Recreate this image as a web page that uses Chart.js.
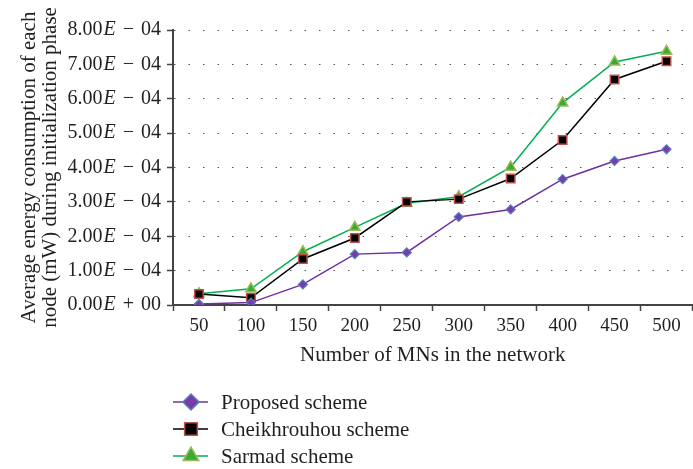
<!DOCTYPE html>
<html>
<head>
<meta charset="utf-8">
<script src="https://cdn.jsdelivr.net/npm/chart.js@4/dist/chart.umd.min.js"></script>
<style>
  html, body { margin: 0; padding: 0; background: #fff; overflow: hidden; }
  #wrap { width: 700px; height: 469px; }
</style>
</head>
<body>
<div id="wrap"><canvas id="chart" width="700" height="469"></canvas></div>
<script>
// ---- data ----
const mnCounts = ["50", "100", "150", "200", "250", "300", "350", "400", "450", "500"];
const proposedScheme = [0.03e-4, 0.07e-4, 0.60e-4, 1.48e-4, 1.53e-4, 2.56e-4, 2.78e-4, 3.66e-4, 4.19e-4, 4.53e-4];
const cheikhrouhouScheme = [0.32e-4, 0.21e-4, 1.34e-4, 1.95e-4, 3.00e-4, 3.08e-4, 3.68e-4, 4.80e-4, 6.56e-4, 7.09e-4];
const sarmadScheme = [0.33e-4, 0.47e-4, 1.55e-4, 2.26e-4, 2.96e-4, 3.15e-4, 4.01e-4, 5.88e-4, 7.07e-4, 7.38e-4];
const seriesNames = ["Proposed scheme", "Cheikhrouhou scheme", "Sarmad scheme"];
const yTickStep = 1e-4;
const yMax = 8e-4;

const FONT = '"Liberation Serif", "DejaVu Serif", serif';
const TEXT = "#231f20";
const AXIS = "#444";

// "8.00E − 04" -> parts
function sciParts(v) {
  const s = v.toExponential(2);
  const [m, e] = s.split("e");
  let n = parseInt(e, 10);
  if (v === 0) n = 0;
  const sign = n < 0 ? "\u2212" : "+";
  const exp = String(Math.abs(n)).padStart(2, "0");
  return { mant: v === 0 ? "0.00" : m, sign, exp };
}

// y tick labels with italic E
const yLabelPlugin = {
  id: "yLabels",
  afterDraw(chart) {
    const ctx = chart.ctx;
    const sc = chart.scales.y;
    const right = sc.right - 12;
    const reg = "20px " + FONT;
    const ita = "italic 20px " + FONT;
    ctx.save();
    ctx.fillStyle = TEXT;
    ctx.textBaseline = "middle";
    ctx.textAlign = "left";
    sc.ticks.forEach(t => {
      const y = sc.getPixelForValue(t.value);
      const p = sciParts(t.value);
      ctx.font = reg;
      const wExp = ctx.measureText(p.exp).width;
      const wSign = ctx.measureText(p.sign).width;
      const wMant = ctx.measureText(p.mant).width;
      ctx.font = ita;
      const wE = ctx.measureText("E").width;
      let x = right - wExp;
      ctx.font = reg;
      ctx.fillText(p.exp, x, y);
      x -= 7 + wSign;
      ctx.fillText(p.sign, x, y);
      x -= 7 + wE;
      ctx.font = ita;
      ctx.fillText("E", x, y);
      x -= wMant + 1;
      ctx.font = reg;
      ctx.fillText(p.mant, x, y);
    });
    ctx.restore();
  }
};

// vertical legend under the x axis title
const legendPlugin = {
  id: "vLegend",
  afterDraw(chart) {
    const ctx = chart.ctx;
    const x0 = chart.chartArea.left;
    const rows = [402, 429, 456];
    const big = [
      { pointStyle: "rectRot", radius: 8, rotation: 0, borderWidth: 1.5 },
      { pointStyle: "rect", radius: 9, rotation: 0, borderWidth: 1.5 },
      { pointStyle: "triangle", radius: 9, rotation: 0, borderWidth: 1.5 }
    ];
    chart.data.datasets.forEach((ds, i) => {
      const y = rows[i];
      ctx.save();
      ctx.strokeStyle = ds.borderColor;
      ctx.lineWidth = 1.5;
      ctx.beginPath();
      ctx.moveTo(x0, y);
      ctx.lineTo(x0 + 35, y);
      ctx.stroke();
      ctx.fillStyle = ds.pointBackgroundColor;
      ctx.strokeStyle = ds.pointBorderColor;
      ctx.lineWidth = 1.5;
      Chart.helpers.drawPoint(ctx, big[i], x0 + 18, y);
      ctx.fillStyle = TEXT;
      ctx.font = "21px " + FONT;
      ctx.textBaseline = "middle";
      ctx.fillText(ds.label, x0 + 48, y + 1);
      ctx.restore();
    });
  }
};

new Chart(document.getElementById("chart"), {
  type: "line",
  data: {
    labels: mnCounts,
    datasets: [
      {
        label: seriesNames[0],
        data: proposedScheme,
        borderColor: "#7030a0",
        borderWidth: 1.5,
        pointStyle: "rectRot",
        pointRadius: 4.5,
        pointBackgroundColor: "#7a3aa8",
        pointBorderColor: "#4f81bd",
        pointBorderWidth: 1.2,
        tension: 0
      },
      {
        label: seriesNames[1],
        data: cheikhrouhouScheme,
        borderColor: "#000000",
        borderWidth: 1.5,
        pointStyle: "rect",
        pointRadius: 6,
        pointBackgroundColor: "#000000",
        pointBorderColor: "#c0504d",
        pointBorderWidth: 1.5,
        tension: 0
      },
      {
        label: seriesNames[2],
        data: sarmadScheme,
        borderColor: "#00b050",
        borderWidth: 1.5,
        pointStyle: "triangle",
        pointRadius: 6,
        pointBackgroundColor: "#3aa935",
        pointBorderColor: "#9bbb59",
        pointBorderWidth: 1.5,
        tension: 0
      }
    ]
  },
  options: {
    responsive: false,
    animation: false,
    layout: { padding: { top: 30, right: 1, bottom: 101, left: 0 } },
    plugins: {
      legend: { display: false },
      tooltip: { enabled: false }
    },
    scales: {
      x: {
        offset: true,
        afterFit(sc) { sc.height = 63; },
        grid: {
          offset: true,
          drawOnChartArea: false,
          drawTicks: true,
          tickLength: 6,
          tickColor: AXIS,
          tickWidth: 1.5
        },
        border: { display: true, color: AXIS, width: 2 },
        ticks: { color: TEXT, font: { family: FONT, size: 19 }, padding: 4, maxRotation: 0 },
        title: {
          display: true,
          text: "Number of MNs in the network",
          color: TEXT,
          font: { family: FONT, size: 21 },
          padding: { top: 7, bottom: 0 }
        }
      },
      y: {
        min: 0,
        max: yMax,
        afterFit(sc) { sc.width = 173; },
        ticks: {
          stepSize: yTickStep,
          color: "rgba(0,0,0,0)",
          font: { family: FONT, size: 19 },
          callback: v => "8.00E - 04"
        },
        grid: {
          color: "#555",
          lineWidth: 1,
          drawTicks: true,
          tickLength: 6,
          tickColor: AXIS,
          tickWidth: 1.5,
          tickBorderDash: []
        },
        border: { display: true, color: AXIS, width: 2, dash: [1.5, 13] },
        title: {
          display: true,
          text: ["Average energy consumption of each", "node (mW) during initialization phase"],
          color: TEXT,
          font: { family: FONT, size: 21, lineHeight: 1.0 },
          padding: { top: 18.5, bottom: 0 }
        }
      }
    }
  },
  plugins: [yLabelPlugin, legendPlugin]
});
</script>
</body>
</html>
